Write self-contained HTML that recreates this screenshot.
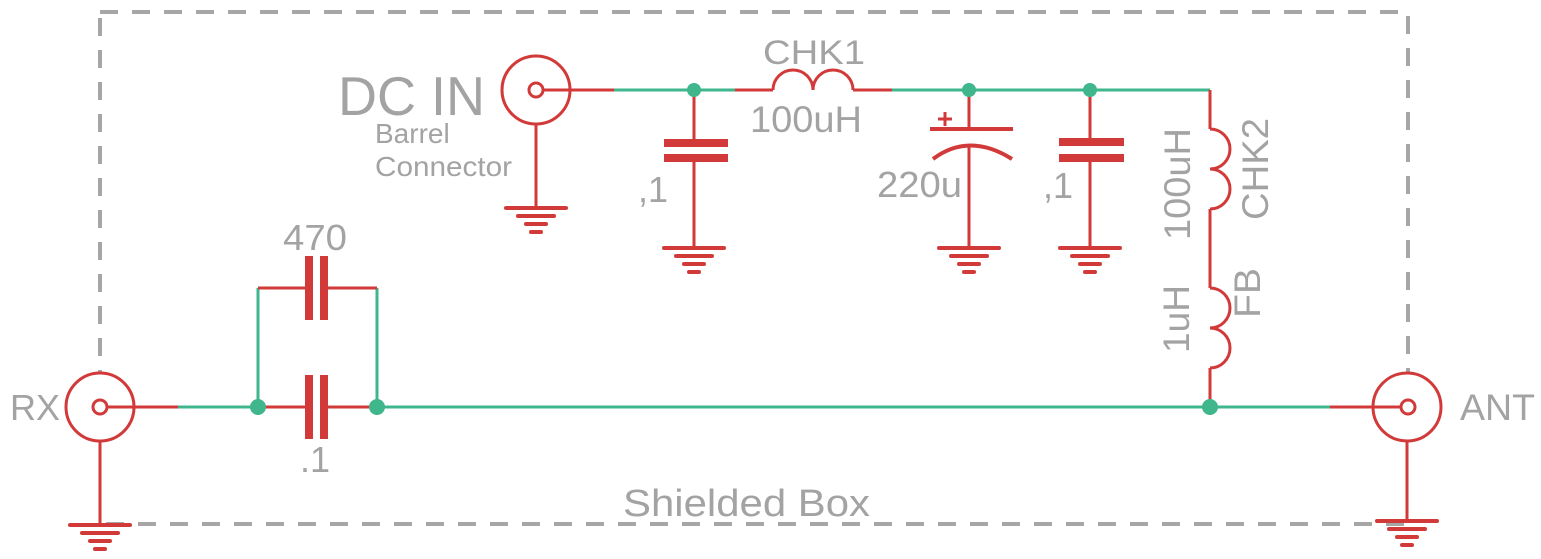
<!DOCTYPE html>
<html><head><meta charset="utf-8"><style>
html,body{margin:0;padding:0;background:#fff;}
svg{display:block;}
text{font-family:"Liberation Sans",sans-serif;fill:#a3a3a3;}
</style></head><body>
<svg width="1541" height="559" viewBox="0 0 1541 559" xmlns="http://www.w3.org/2000/svg">
<rect x="100" y="12" width="1308" height="512" fill="none" stroke="#a6a6a6" stroke-width="4" stroke-dasharray="18 14"/>
<g fill="none" stroke-linecap="butt">
<g stroke="#3fb68c" stroke-width="3">
<line x1="614" y1="90" x2="735" y2="90"/>
<line x1="892" y1="90" x2="1210" y2="90"/>
<line x1="178" y1="407" x2="258" y2="407"/>
<line x1="377" y1="407" x2="1330" y2="407"/>
<polyline points="258,407 258,288"/>
<polyline points="377,407 377,288"/>
</g>
<g stroke="#d23a3a" stroke-width="3">
<circle cx="536" cy="90" r="34" fill="#fff"/>
<circle cx="536" cy="90" r="7"/>
<line x1="543" y1="90" x2="614" y2="90"/>
<line x1="536" y1="124" x2="536" y2="208"/>
<line x1="694" y1="90" x2="694" y2="140"/>
<line x1="694" y1="161" x2="694" y2="248"/>
<line x1="735" y1="90" x2="773" y2="90"/>
<path d="M773,90 A20,20 0 0 1 813,90 A20,20 0 0 1 853,90"/>
<line x1="853" y1="90" x2="892" y2="90"/>
<line x1="969" y1="90" x2="969" y2="128"/>
<line x1="969" y1="145" x2="969" y2="248"/>
<path d="M933,159 Q969,132 1012,159" stroke-width="4"/>
<line x1="930" y1="129" x2="1013" y2="129" stroke-width="4"/>
<line x1="938" y1="119" x2="952" y2="119"/>
<line x1="945" y1="112" x2="945" y2="126"/>
<line x1="1090" y1="90" x2="1090" y2="140"/>
<line x1="1090" y1="161" x2="1090" y2="248"/>
<line x1="1210" y1="90" x2="1210" y2="129"/>
<path d="M1210,129 A20,20 0 0 1 1210,169 A20,20 0 0 1 1210,209"/>
<line x1="1210" y1="209" x2="1210" y2="288"/>
<path d="M1210,288 A20,20 0 0 1 1210,328 A20,20 0 0 1 1210,368"/>
<line x1="1210" y1="368" x2="1210" y2="407"/>
<line x1="100" y1="441" x2="100" y2="525" stroke="#fff" stroke-width="6"/>
<line x1="100" y1="441" x2="100" y2="525"/>
<circle cx="100" cy="407" r="34" fill="#fff"/>
<circle cx="100" cy="407" r="7"/>
<line x1="107" y1="407" x2="178" y2="407"/>
<line x1="258" y1="407" x2="305" y2="407"/>
<line x1="328" y1="407" x2="377" y2="407"/>
<line x1="258" y1="288" x2="305" y2="288"/>
<line x1="328" y1="288" x2="377" y2="288"/>
<line x1="1407" y1="441" x2="1407" y2="521" stroke="#fff" stroke-width="6"/>
<line x1="1407" y1="441" x2="1407" y2="521"/>
<circle cx="1407" cy="407" r="34" fill="#fff"/>
<circle cx="1408" cy="407" r="7"/>
<line x1="1330" y1="407" x2="1401" y2="407"/>
</g>
</g>
<g fill="#d23a3a">
<rect x="664" y="139" width="64" height="8"/><rect x="664" y="154" width="64" height="8"/>
<rect x="1059" y="138" width="65" height="8"/><rect x="1059" y="154" width="65" height="8"/>
<rect x="305" y="375" width="8" height="64"/><rect x="320" y="375" width="8" height="64"/>
<rect x="305" y="256" width="8" height="64"/><rect x="320" y="256" width="8" height="64"/>
</g>
<g stroke="#d23a3a" stroke-width="4" stroke-linecap="round">
<g><line x1="506" y1="208" x2="566" y2="208"/><line x1="518" y1="216" x2="554" y2="216"/><line x1="526" y1="224" x2="546" y2="224"/><line x1="531" y1="232" x2="541" y2="232"/></g>
<g transform="translate(158,40)"><line x1="506" y1="208" x2="566" y2="208"/><line x1="518" y1="216" x2="554" y2="216"/><line x1="526" y1="224" x2="546" y2="224"/><line x1="531" y1="232" x2="541" y2="232"/></g>
<g transform="translate(433,40)"><line x1="506" y1="208" x2="566" y2="208"/><line x1="518" y1="216" x2="554" y2="216"/><line x1="526" y1="224" x2="546" y2="224"/><line x1="531" y1="232" x2="541" y2="232"/></g>
<g transform="translate(554,40)"><line x1="506" y1="208" x2="566" y2="208"/><line x1="518" y1="216" x2="554" y2="216"/><line x1="526" y1="224" x2="546" y2="224"/><line x1="531" y1="232" x2="541" y2="232"/></g>
<g transform="translate(-436,317)"><line x1="506" y1="208" x2="566" y2="208"/><line x1="518" y1="216" x2="554" y2="216"/><line x1="526" y1="224" x2="546" y2="224"/><line x1="531" y1="232" x2="541" y2="232"/></g>
<g transform="translate(871,313)"><line x1="506" y1="208" x2="566" y2="208"/><line x1="518" y1="216" x2="554" y2="216"/><line x1="526" y1="224" x2="546" y2="224"/><line x1="531" y1="232" x2="541" y2="232"/></g>
</g>
<g fill="#3fb68c">
<circle cx="694" cy="90" r="7"/><circle cx="969" cy="90" r="7"/><circle cx="1090" cy="90" r="7"/>
<circle cx="258" cy="407" r="8"/><circle cx="377" cy="407" r="8"/><circle cx="1210" cy="407" r="8"/>
</g>
<text x="338" y="115" font-size="55" textLength="147" lengthAdjust="spacingAndGlyphs">DC IN</text>
<text x="375" y="143" font-size="28">Barrel</text>
<text x="375" y="176" font-size="28" textLength="137" lengthAdjust="spacingAndGlyphs">Connector</text>
<text x="763" y="64" font-size="34" textLength="102" lengthAdjust="spacingAndGlyphs">CHK1</text>
<text x="750" y="132" font-size="37" textLength="112" lengthAdjust="spacingAndGlyphs">100uH</text>
<text x="638" y="202" font-size="36">,1</text>
<text x="877" y="197" font-size="36" textLength="85" lengthAdjust="spacingAndGlyphs">220u</text>
<text x="1043" y="198" font-size="36">,1</text>
<text x="283" y="250" font-size="36" textLength="64" lengthAdjust="spacingAndGlyphs">470</text>
<text x="300" y="472" font-size="36">.1</text>
<text x="10" y="420" font-size="36" textLength="50" lengthAdjust="spacingAndGlyphs">RX</text>
<text x="1460" y="420" font-size="37" textLength="75" lengthAdjust="spacingAndGlyphs">ANT</text>
<text x="623" y="516" font-size="38" textLength="247" lengthAdjust="spacingAndGlyphs">Shielded Box</text>
<text transform="translate(1190,240) rotate(-90)" font-size="37" textLength="112" lengthAdjust="spacingAndGlyphs">100uH</text>
<text transform="translate(1268,220) rotate(-90)" font-size="37" textLength="102" lengthAdjust="spacingAndGlyphs">CHK2</text>
<text transform="translate(1189,353) rotate(-90)" font-size="37" textLength="68" lengthAdjust="spacingAndGlyphs">1uH</text>
<text transform="translate(1260,318) rotate(-90)" font-size="37" textLength="50" lengthAdjust="spacingAndGlyphs">FB</text>
</svg>
</body></html>
